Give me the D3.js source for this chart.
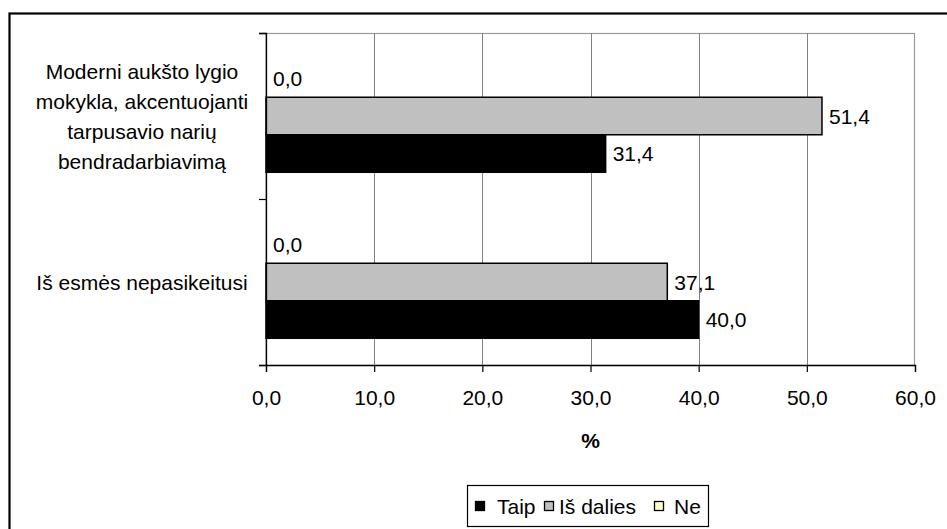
<!DOCTYPE html>
<html>
<head>
<meta charset="utf-8">
<script src="https://cdn.jsdelivr.net/npm/d3@7"></script>
<style>
  html, body { margin: 0; padding: 0; background: #fff; }
  svg { display: block; font-family: "Liberation Sans", Arial, sans-serif; }
</style>
</head>
<body>
<svg id="chart" width="947" height="529"></svg>
<script>
// ---- data ----
const categories = ["Moderni aukšto lygio mokykla, akcentuojanti tarpusavio narių bendradarbiavimą", "Iš esmės nepasikeitusi"];
const categoryLines = [["Moderni aukšto lygio", "mokykla, akcentuojanti", "tarpusavio narių", "bendradarbiavimą"], ["Iš esmės nepasikeitusi"]];
const seriesNames = ["Taip", "Iš dalies", "Ne"];
const taip = [31.4, 40.0];
const isDalies = [51.4, 37.1];
const ne = [0.0, 0.0];
const xTicks = [0, 10, 20, 30, 40, 50, 60];
const xTitle = "%";
const seriesColors = ["#000000", "#c0c0c0", "#ffffcc"];

const seriesValues = [taip, isDalies, ne];
const locale = d3.formatLocale({decimal: ",", thousands: " ", grouping: [3], currency: ["", ""]});
const fmt = locale.format(".1f");
const FS = 21;

const svg = d3.select("#chart");

// outer chart border
svg.append("rect").attr("x", 9.5).attr("y", 13.5).attr("width", 960).attr("height", 540)
  .attr("fill", "#fff").attr("stroke", "#000").attr("stroke-width", 2.2);

const plot = {left: 266, right: 915, top: 33, bottom: 365};
const x = d3.scaleLinear().domain([0, 60]).range([plot.left, plot.right]);
const y0 = d3.scaleBand().domain(categories).range([plot.top, plot.bottom]).padding(0);
const bw = y0.bandwidth();
const inner = bw * 0.678;
const y1 = d3.scaleBand().domain(["Ne", "Iš dalies", "Taip"]).range([(bw - inner) / 2, (bw + inner) / 2]).padding(0);

// plot area frame (gray)
svg.append("rect").attr("x", plot.left).attr("y", plot.top + 0.5)
  .attr("width", plot.right - plot.left - 0.5).attr("height", plot.bottom - plot.top)
  .attr("fill", "#fff").attr("stroke", "#999").attr("stroke-width", 1.2);

// gridlines
svg.append("g").selectAll("line").data(xTicks.slice(1, -1)).join("line")
  .attr("x1", d => Math.round(x(d)) + 0.5).attr("x2", d => Math.round(x(d)) + 0.5)
  .attr("y1", plot.top).attr("y2", plot.bottom)
  .attr("stroke", "#808080").attr("stroke-width", 1);

// bars
const rows = [];
categories.forEach((c, i) => {
  seriesNames.forEach((s, j) => rows.push({cat: c, series: s, value: seriesValues[j][i], color: seriesColors[j]}));
});
const g = svg.append("g");
g.selectAll("rect").data(rows.filter(r => r.value > 0)).join("rect")
  .attr("x", x(0))
  .attr("y", d => y0(d.cat) + y1(d.series))
  .attr("width", d => x(d.value) - x(0))
  .attr("height", y1.bandwidth())
  .attr("fill", d => d.color)
  .attr("stroke", "#000").attr("stroke-width", 1.5);

// value labels
g.selectAll("text").data(rows).join("text")
  .attr("x", d => x(d.value) + 7)
  .attr("y", d => y0(d.cat) + y1(d.series) + y1.bandwidth() / 2)
  .attr("dy", "0.36em")
  .attr("font-size", FS)
  .attr("fill", "#000")
  .text(d => fmt(d.value));

// x axis
const xAxis = d3.axisBottom(x).tickValues(xTicks).tickSize(7).tickFormat(d => fmt(d));
const xa = svg.append("g").attr("transform", `translate(0,${plot.bottom})`).call(xAxis);
xa.select(".domain").attr("stroke", "#000").attr("stroke-width", 1.3);
xa.selectAll(".tick line").attr("stroke", "#000").attr("stroke-width", 1.2);
xa.selectAll(".tick text").attr("font-size", FS).attr("font-family", "Liberation Sans, Arial, sans-serif")
  .attr("fill", "#000").attr("y", 25).attr("dy", "0.71em");

// y axis
const yAxis = d3.axisLeft(d3.scaleLinear().domain([0, 2]).range([plot.bottom, plot.top]))
  .tickValues([0, 1, 2]).tickSize(7).tickFormat("");
const ya = svg.append("g").attr("transform", `translate(${plot.left},0)`).call(yAxis);
ya.select(".domain").attr("stroke", "#000").attr("stroke-width", 1.3);
ya.selectAll(".tick line").attr("stroke", "#000").attr("stroke-width", 1.2);

// category labels
categories.forEach((c, i) => {
  const lines = categoryLines[i];
  const cy = y0(c) + bw / 2;
  const lh = 30;
  const t = svg.append("text").attr("text-anchor", "middle").attr("font-size", FS).attr("fill", "#000");
  lines.forEach((ln, k) => {
    t.append("tspan").attr("x", 142)
      .attr("y", cy + (k - (lines.length - 1) / 2) * lh)
      .attr("dy", "0.36em").text(ln);
  });
});

// x title
svg.append("text").attr("x", (plot.left + plot.right) / 2).attr("y", 440).attr("dy", "0.36em")
  .attr("text-anchor", "middle").attr("font-size", FS).attr("font-weight", "bold").text(xTitle);

// legend
const lg = svg.append("g");
lg.append("rect").attr("x", 467.5).attr("y", 485.5).attr("width", 241).attr("height", 41)
  .attr("fill", "#fff").attr("stroke", "#000").attr("stroke-width", 1.2);
const legendSq = [475, 544, 654];
const legendTx = [497, 559, 674];
seriesNames.forEach((s, j) => {
  lg.append("rect").attr("x", legendSq[j] + 0.5).attr("y", 501.5).attr("width", 9).attr("height", 9)
    .attr("fill", seriesColors[j]).attr("stroke", "#000").attr("stroke-width", 1.3);
  lg.append("text").attr("x", legendTx[j]).attr("y", 506).attr("dy", "0.36em")
    .attr("font-size", FS).attr("fill", "#000").text(s);
});
</script>
</body>
</html>
